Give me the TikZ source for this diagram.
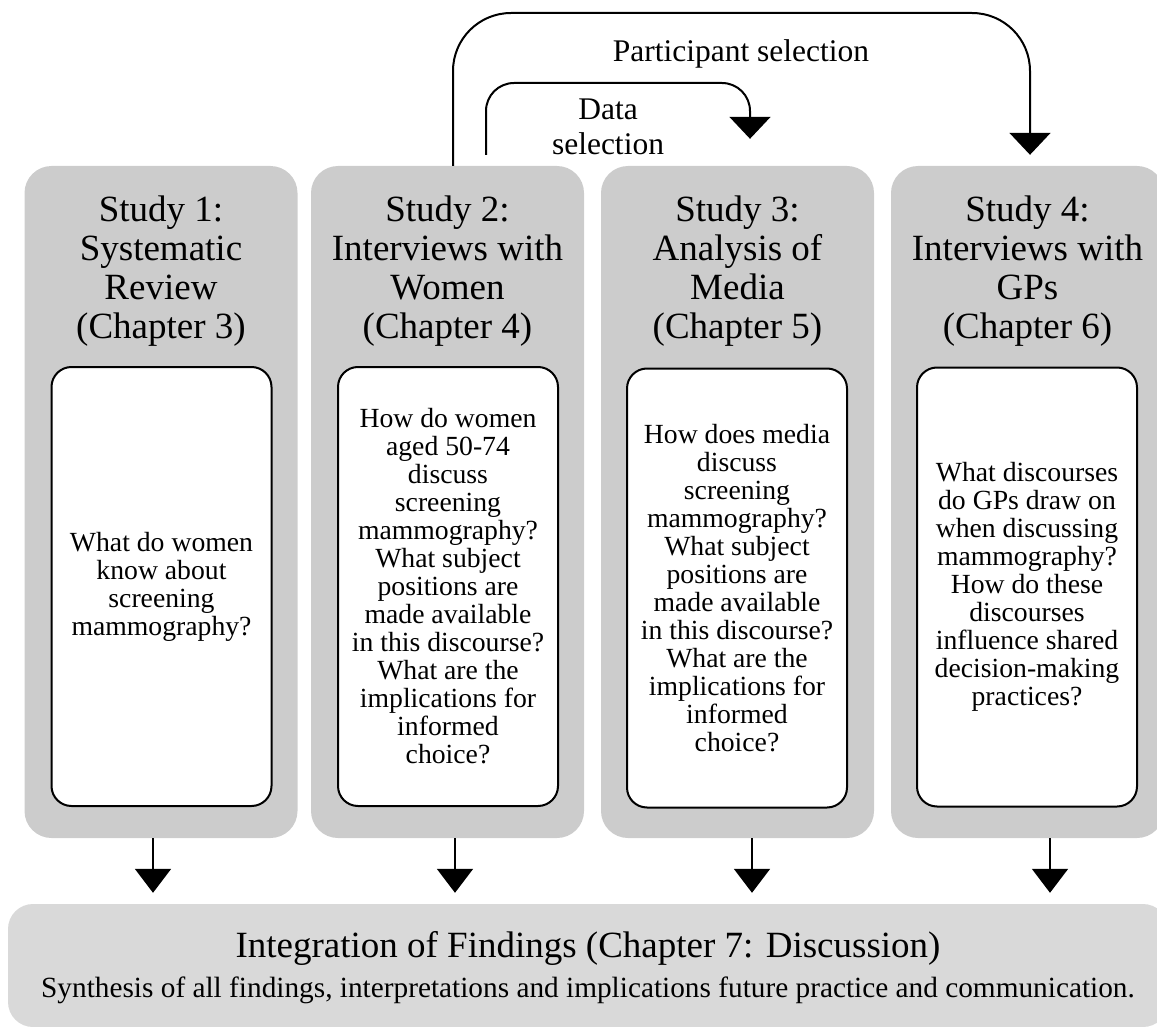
\documentclass[tikz,border=0pt]{standalone}
\usepackage{fontspec}
\setmainfont{Liberation Serif}
\usetikzlibrary{arrows.meta,calc}
\definecolor{colgray}{HTML}{CCCCCC}
\definecolor{fingray}{HTML}{D9D9D9}
\tikzset{
  colbox/.style={fill=colgray, rounded corners=27pt, inner sep=0pt, minimum width=273pt, minimum height=672pt},
  qbox/.style={draw, line width=2pt, fill=white, rounded corners=20pt, align=center, inner sep=0pt,
    minimum width=220pt, minimum height=439pt, font=\fontsize{27.7}{28}\selectfont},
  head/.style={align=center, font=\fontsize{37}{39}\selectfont},
  lab/.style={align=center, font=\fontsize{31.5}{35}\selectfont},
  flow/.style={line width=2pt, -{Triangle[width=41pt,length=22pt]}},
  downarr/.style={line width=2pt, -{Triangle[width=36pt,length=24pt]}, shorten >=11pt},
}
\begin{document}
\begin{tikzpicture}[x=1pt,y=-1pt]
\clip (0,0) rectangle (1157,1027);
% columns
\node[colbox] (c1) at (161,502) {};
\node[colbox] (c2) at (447.5,502) {};
\node[colbox] (c3) at (737.5,502) {};
\node[colbox] (c4) at (1027.5,502) {};
% headers
\node[head] (h1) at (161,271) {Study 1:\\Systematic\\Review\\(Chapter 3)};
\node[head] (h2) at (447.5,271) {Study 2:\\Interviews with\\Women\\(Chapter 4)};
\node[head] (h3) at (737.5,271) {Study 3:\\Analysis of\\Media\\(Chapter 5)};
\node[head] (h4) at (1027.5,271) {Study 4:\\Interviews with\\GPs\\(Chapter 6)};
% question boxes
\node[qbox] (q1) at (161.5,586.5) {What do women\\know about\\screening\\mammography?};
\node[qbox] (q2) at (448,586.5) {How do women\\aged 50-74\\discuss\\screening\\mammography?\\What subject\\positions are\\made available\\in this discourse?\\What are the\\implications for\\informed\\choice?};
\node[qbox] (q3) at (737,588) {How does media\\discuss\\screening\\mammography?\\What subject\\positions are\\made available\\in this discourse?\\What are the\\implications for\\informed\\choice?};
\node[qbox] (q4) at (1027,587) {What discourses\\do GPs draw on\\when discussing\\mammography?\\How do these\\discourses\\influence shared\\decision-making\\practices?};
% final box
\node[fill=fingray, rounded corners=25pt, inner sep=0pt, minimum width=1160pt, minimum height=123pt] (fin) at (588,965.5) {};
\node[font=\fontsize{37}{39}\selectfont] (ft) at (588,948) {Integration of Findings (Chapter 7: Discussion)};
\node[font=\fontsize{29.3}{30}\selectfont] (fs) at (588,990) {Synthesis of all findings, interpretations and implications future practice and communication.};
% top arrows
\coordinate (oS) at ([xshift=5.5pt]c2.north);
\coordinate (oE) at ([xshift=2.5pt,yshift=11pt]c4.north);
\coordinate (oT) at (0,13);
\draw[flow, rounded corners=58pt] (oS) -- (oS |- oT) -- (oE |- oT) -- (oE);
\coordinate (iS) at ([xshift=38.5pt,yshift=11pt]c2.north);
\coordinate (iE) at ([xshift=12.5pt,yshift=27pt]c3.north);
\coordinate (iT) at (0,83);
\draw[flow, rounded corners=28pt] (iS) -- (iS |- iT) -- (iE |- iT) -- (iE);
\node[lab] (pl) at (741,54) {Participant selection};
\node[lab] (dl) at (608,127) {Data\\selection};
% down arrows
\coordinate (d1) at ([xshift=-8pt]c1.south);
\coordinate (d2) at ([xshift=7.5pt]c2.south);
\coordinate (d3) at ([xshift=14.5pt]c3.south);
\coordinate (d4) at ([xshift=22.5pt]c4.south);
\draw[downarr] (d1) -- (d1 |- fin.north);
\draw[downarr] (d2) -- (d2 |- fin.north);
\draw[downarr] (d3) -- (d3 |- fin.north);
\draw[downarr] (d4) -- (d4 |- fin.north);
\end{tikzpicture}
\end{document}
